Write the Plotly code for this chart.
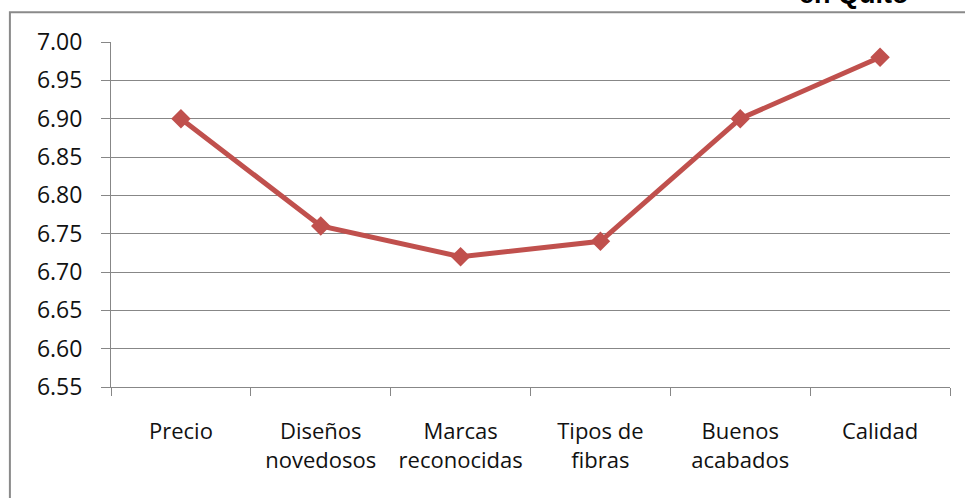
import plotly.graph_objects as go

# Data
categories = ["Precio", "Diseños<br>novedosos", "Marcas<br>reconocidas",
              "Tipos de<br>fibras", "Buenos<br>acabados", "Calidad"]
values = [6.90, 6.76, 6.72, 6.74, 6.90, 6.98]
y_ticks = [6.55, 6.60, 6.65, 6.70, 6.75, 6.80, 6.85, 6.90, 6.95, 7.00]
y_tick_labels = [f"{v:.2f}" for v in y_ticks]

LINE_RED = "#C0504D"
GRID = "#878787"
FONT = "Open Sans"

fig = go.Figure()
fig.add_trace(go.Scatter(
    x=categories, y=values, mode="lines+markers",
    line=dict(color=LINE_RED, width=5),
    marker=dict(symbol="diamond", size=15, color=LINE_RED),
    cliponaxis=False, showlegend=False,
))

fig.update_layout(
    width=965, height=498,
    margin=dict(l=111, r=15, t=42, b=111),
    paper_bgcolor="white", plot_bgcolor="white",
    font=dict(family=FONT, color="#111111"),
    xaxis=dict(
        type="category", tickson="boundaries",
        showgrid=False, showline=True, linecolor=GRID, linewidth=1,
        ticks="outside", ticklen=8, tickcolor=GRID, tickwidth=1,
        tickfont=dict(size=22, family=FONT, color="#111111"),
        ticklabelstandoff=25,
        range=[-0.5, 5.5],
    ),
    yaxis=dict(
        range=[6.55, 7.00], tickmode="array",
        tickvals=y_ticks, ticktext=y_tick_labels,
        showgrid=True, gridcolor=GRID, gridwidth=1,
        showline=True, linecolor=GRID, linewidth=1,
        ticks="outside", ticklen=9, tickcolor=GRID, tickwidth=1,
        tickfont=dict(size=23, family=FONT, color="#111111"),
        ticklabelstandoff=14,
        zeroline=False,
    ),
    shapes=[
        # outer chart frame
        dict(type="rect", xref="paper", yref="paper",
             x0=-0.1205, x1=1.05, y0=-0.4, y1=1.086,
             line=dict(color="#8a8a8a", width=2), fillcolor="rgba(0,0,0,0)",
             layer="below"),
    ],
    annotations=[
        dict(text="<b>en Quito</b>", xref="paper", yref="paper",
             x=0.8856, y=1.09, xanchor="center", yanchor="bottom",
             showarrow=False,
             font=dict(family="Liberation Sans", size=27, color="#000000")),
    ],
)

fig.write_html("out.html")
